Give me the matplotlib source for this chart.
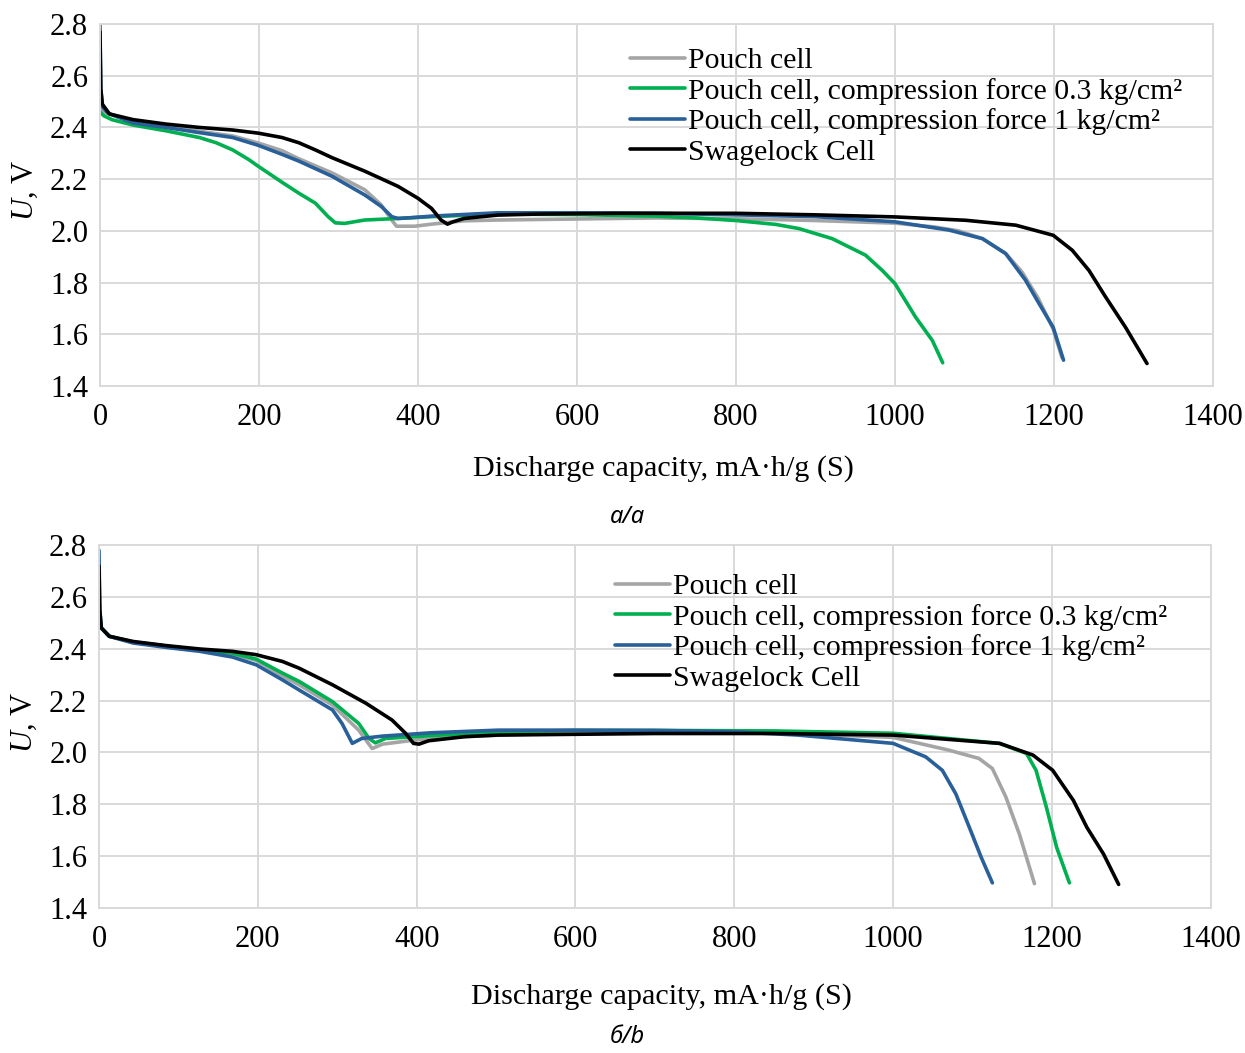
import matplotlib
matplotlib.use('Agg')
import matplotlib.pyplot as plt

plt.rcParams['font.family'] = ['Liberation Serif', 'DejaVu Serif']
plt.rcParams['mathtext.fontset'] = 'custom'
plt.rcParams['mathtext.rm'] = 'Liberation Serif'
plt.rcParams['mathtext.it'] = 'Liberation Serif:italic'

# ---- data ----
series_names = ['Pouch cell',
                'Pouch cell, compression force 0.3 kg/cm²',
                'Pouch cell, compression force 1 kg/cm²',
                'Swagelock Cell']
series_colors = ['#a5a5a5', '#00b050', '#2a6099', '#000000']

# panel a
a_gray_x = [0, 2, 5, 15, 42, 83, 125, 167, 199, 229, 250, 292, 333, 354, 367, 373, 396, 417, 458, 500, 600,
            700, 800, 900, 1000, 1050, 1080, 1110, 1140, 1160, 1180, 1199, 1210]
a_gray_y = [2.49, 2.47, 2.46, 2.45, 2.425, 2.405, 2.385, 2.367, 2.34, 2.31, 2.279, 2.224, 2.159, 2.10, 2.042,
            2.018, 2.018, 2.026, 2.039, 2.042, 2.046, 2.05, 2.047, 2.04, 2.03, 2.015, 2.0, 1.97, 1.91, 1.84,
            1.74, 1.62, 1.51]

a_green_x = [0, 5, 15, 42, 83, 125, 146, 167, 187, 199, 229, 250, 271, 287, 296, 308, 333, 375, 417, 500,
             600, 700, 750, 800, 850, 879, 921, 963, 984, 1000, 1026, 1047, 1060]
a_green_y = [2.46, 2.445, 2.43, 2.409, 2.387, 2.361, 2.341, 2.313, 2.276, 2.25, 2.188, 2.146, 2.107, 2.055,
             2.031, 2.029, 2.042, 2.048, 2.055, 2.065, 2.063, 2.057, 2.05, 2.04, 2.025, 2.009, 1.97, 1.906,
             1.847, 1.796, 1.666, 1.576, 1.49]

a_blue_x = [0, 1, 3, 10, 42, 83, 125, 167, 199, 229, 250, 292, 333, 354, 367, 375, 396, 417, 500, 600, 700,
            800, 900, 1000, 1068, 1110, 1139, 1164, 1181, 1199, 1212]
a_blue_y = [2.80, 2.55, 2.48, 2.455, 2.417, 2.40, 2.38, 2.361, 2.331, 2.296, 2.27, 2.211, 2.139, 2.094,
            2.055, 2.048, 2.052, 2.057, 2.07, 2.07, 2.068, 2.062, 2.055, 2.035, 2.003, 1.97, 1.913, 1.81,
            1.72, 1.627, 1.50]

a_black_x = [0, 1, 3, 12, 42, 83, 125, 167, 199, 229, 250, 271, 292, 333, 375, 400, 417, 429, 437, 444, 458,
             500, 550, 650, 800, 900, 1000, 1089, 1152, 1199, 1223, 1244, 1265, 1290, 1317]
a_black_y = [2.77, 2.55, 2.49, 2.452, 2.43, 2.413, 2.40, 2.39, 2.378, 2.361, 2.341, 2.313, 2.283, 2.231,
             2.172, 2.126, 2.087, 2.042, 2.026, 2.035, 2.048, 2.061, 2.065, 2.068, 2.068, 2.062, 2.054,
             2.041, 2.022, 1.983, 1.925, 1.847, 1.744, 1.627, 1.487]

# panel b
b_gray_x = [0, 3, 13, 43, 85, 127, 168, 198, 231, 252, 294, 327, 344, 357, 398, 461, 503, 600, 700, 800,
            900, 1000, 1070, 1108, 1125, 1142, 1159, 1178]
b_gray_y = [2.50, 2.48, 2.448, 2.426, 2.41, 2.395, 2.38, 2.355, 2.295, 2.261, 2.183, 2.086, 2.015, 2.032,
            2.048, 2.061, 2.067, 2.075, 2.08, 2.078, 2.07, 2.058, 2.009, 1.977, 1.938, 1.828, 1.685, 1.494]

b_green_x = [0, 3, 13, 43, 85, 127, 168, 198, 231, 252, 294, 327, 340, 348, 361, 398, 503, 600, 700, 850,
             1000, 1134, 1168, 1180, 1193, 1206, 1222]
b_green_y = [2.50, 2.48, 2.448, 2.426, 2.41, 2.396, 2.383, 2.36, 2.306, 2.274, 2.196, 2.112, 2.054, 2.037,
             2.054, 2.061, 2.08, 2.085, 2.085, 2.083, 2.074, 2.035, 1.996, 1.931, 1.789, 1.633, 1.497]

b_blue_x = [0, 1, 3, 13, 43, 85, 127, 168, 198, 231, 252, 294, 306, 319, 331, 357, 419, 503, 600, 700, 800,
            880, 1000, 1041, 1062, 1079, 1096, 1111, 1125]
b_blue_y = [2.78, 2.55, 2.48, 2.448, 2.422, 2.405, 2.39, 2.368, 2.338, 2.28, 2.241, 2.164, 2.112, 2.035,
            2.054, 2.063, 2.076, 2.086, 2.086, 2.085, 2.08, 2.067, 2.035, 1.983, 1.931, 1.84, 1.711, 1.595,
            1.497]

b_black_x = [0, 1, 3, 13, 43, 85, 127, 168, 198, 231, 252, 294, 336, 369, 386, 396, 403, 415, 461, 503, 600,
             700, 850, 1000, 1134, 1176, 1201, 1227, 1244, 1265, 1284]
b_black_y = [2.72, 2.55, 2.48, 2.448, 2.428, 2.412, 2.399, 2.39, 2.377, 2.351, 2.325, 2.261, 2.19, 2.125,
             2.074, 2.035, 2.032, 2.045, 2.061, 2.067, 2.07, 2.073, 2.073, 2.067, 2.035, 1.99, 1.931, 1.815,
             1.711, 1.608, 1.491]

x_ticks = [0, 200, 400, 600, 800, 1000, 1200, 1400]
y_ticks = [1.4, 1.6, 1.8, 2.0, 2.2, 2.4, 2.6, 2.8]
x_label = 'Discharge capacity, mA·h/g (S)'
y_label = r'$U$, V'
captions = ['a/a', 'б/b']

panels = [
    [(a_gray_x, a_gray_y), (a_green_x, a_green_y), (a_blue_x, a_blue_y), (a_black_x, a_black_y)],
    [(b_gray_x, b_gray_y), (b_green_x, b_green_y), (b_blue_x, b_blue_y), (b_black_x, b_black_y)],
]

fig = plt.figure(figsize=(12.45, 10.53), dpi=100)
ax_a = fig.add_axes([0.0803, 0.6334, 0.894, 0.3438])
ax_b = fig.add_axes([0.0795, 0.1377, 0.893, 0.3447])

# per-panel layout tweaks: legend anchor, label coords, caption position
legend_anchor = [(0.476, 0.935), (0.464, 0.922)]
xlabel_y = [-0.19, -0.207]
ylabel_y = [0.54, 0.51]
caption_pos = [(0.504, 0.509), (0.504, 0.015)]

for i, ax in enumerate([ax_a, ax_b]):
    for (xs, ys), name, col in zip(panels[i], series_names, series_colors):
        ax.plot(xs, ys, color=col, lw=2.6, label=name, solid_capstyle='round', solid_joinstyle='round')
    ax.set_xlim(0, 1400)
    ax.set_ylim(1.4, 2.8)
    ax.set_xticks(x_ticks)
    ax.set_yticks(y_ticks)
    ax.set_yticklabels(['%.1f' % v for v in y_ticks])
    ax.tick_params(axis='both', length=0, labelsize=22)
    ax.tick_params(axis='x', pad=12)
    ax.tick_params(axis='y', pad=8.5)
    ax.grid(True, color='#d9d9d9', lw=1.4)
    ax.set_axisbelow(True)
    for sp in ax.spines.values():
        sp.set_color('#d9d9d9')
        sp.set_linewidth(1.4)
    ax.set_xlabel(x_label, fontsize=21.7)
    ax.xaxis.set_label_coords(0.506, xlabel_y[i])
    ax.set_ylabel(y_label, fontsize=22)
    ax.yaxis.set_label_coords(-0.054, ylabel_y[i])
    ax.legend(loc='upper left', bbox_to_anchor=legend_anchor[i], frameon=False, fontsize=21.4,
              handlelength=1.85, handletextpad=0.1, labelspacing=0.12, borderpad=0, borderaxespad=0)
    fig.text(caption_pos[i][0], caption_pos[i][1], captions[i], ha='center', va='center', fontsize=17,
             style='italic', family=['Noto Sans', 'DejaVu Sans'])

fig.savefig('out.png', dpi=100)
